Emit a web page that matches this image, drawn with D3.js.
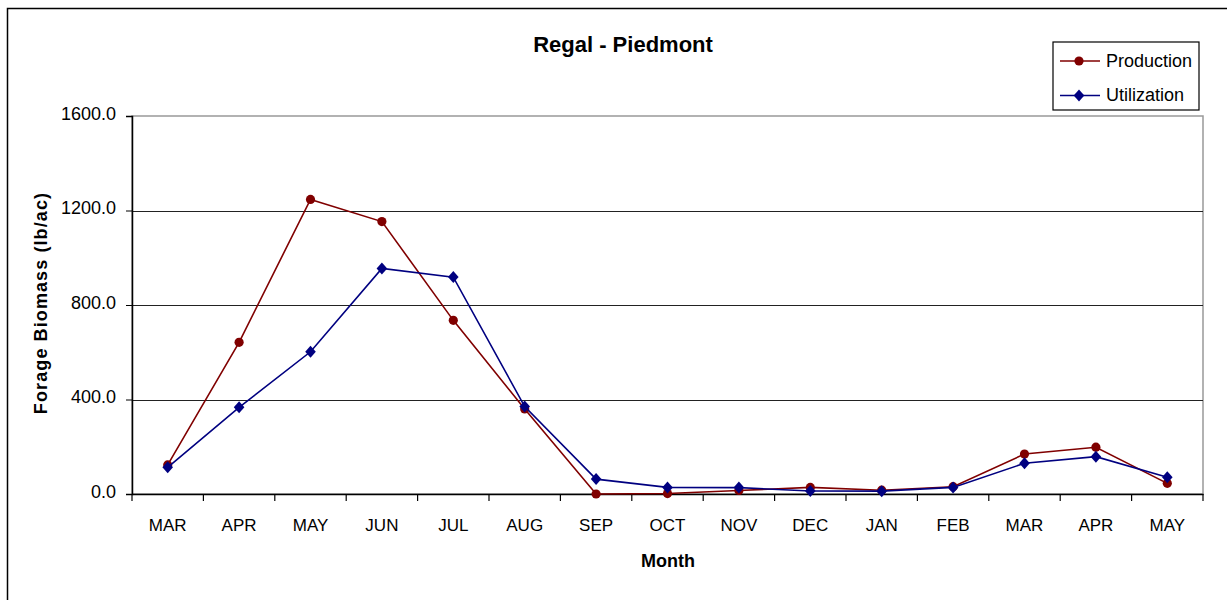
<!DOCTYPE html>
<html><head><meta charset="utf-8">
<script src="https://cdn.jsdelivr.net/npm/d3@7/dist/d3.min.js"></script>
<style>body{margin:0;background:#fff;} svg text{font-family:"Liberation Sans",Arial,sans-serif;fill:#000;}</style>
</head><body><svg id="c" width="1227" height="600"></svg>
<script>
const months = ["MAR","APR","MAY","JUN","JUL","AUG","SEP","OCT","NOV","DEC","JAN","FEB","MAR","APR","MAY"];
const production = [123,642,1247,1153,735,360,0,2,15,28,16,31,169,198,45];
const utilization = [113,367,602,955,918,370,63,28,27,13,12,28,130,158,71];
const yTicks = [0,400,800,1200,1600];

const svg = d3.select("#c");
const L=132,R=1203,T=116,B=494;
svg.append("rect").attr("x",7.5).attr("y",8.5).attr("width",1240).attr("height",620).attr("fill","none").attr("stroke","#000").attr("stroke-width",1.5);

const x = d3.scaleBand().domain(d3.range(months.length)).range([L,R]);
const y = d3.scaleLinear().domain([0,1600]).range([B,T]);

svg.append("rect").attr("x",L).attr("y",T).attr("width",R-L).attr("height",B-T).attr("fill","none").attr("stroke","#999").attr("stroke-width",1.5);
svg.append("g").selectAll("line").data(yTicks.filter(d=>d>0&&d<1600)).join("line")
  .attr("x1",L).attr("x2",R).attr("y1",d=>Math.round(y(d))+0.5).attr("y2",d=>Math.round(y(d))+0.5).attr("stroke","#222").attr("stroke-width",1);

const ya = svg.append("g").attr("transform",`translate(${L},0)`)
  .call(d3.axisLeft(y).tickValues(yTicks).tickFormat(d3.format(".1f")).tickSize(6).tickPadding(10));
ya.select(".domain").attr("stroke","#000").attr("stroke-width",1.5);
ya.selectAll("line").attr("stroke","#000");
ya.selectAll("text").style("font-size","18px").attr("dy","0.17em");

const xa = svg.append("g").attr("transform",`translate(0,${B})`)
  .call(d3.axisBottom(x).tickFormat(i=>months[i]).tickSize(0).tickPadding(25));
xa.select(".domain").attr("stroke","#000").attr("stroke-width",1.5);
xa.selectAll("text").style("font-size","17px");
const bounds = d3.range(months.length+1).map(i=> i<months.length ? x(i) : x(months.length-1)+x.bandwidth());
svg.append("g").selectAll("line").data(bounds).join("line")
  .attr("x1",d=>d).attr("x2",d=>d).attr("y1",B).attr("y2",B+7).attr("stroke","#000").attr("stroke-width",1.2);

const cx = i=> x(i)+x.bandwidth()/2;
const line = d3.line().x((d,i)=>cx(i)).y(d=>y(d));
const series = [
  {name:"Production", values:production, color:"#800000", shape:"circle"},
  {name:"Utilization", values:utilization, color:"#000080", shape:"diamond"}
];
function marker(g,s,px,py){
  if(s.shape==="circle") g.append("circle").attr("cx",px).attr("cy",py).attr("r",4.6).attr("fill",s.color);
  else g.append("path").attr("d",`M${px},${py-6}L${px+5.3},${py}L${px},${py+6}L${px-5.3},${py}Z`).attr("fill",s.color);
}
series.forEach(s=>{
  svg.append("path").datum(s.values).attr("d",line).attr("fill","none").attr("stroke",s.color).attr("stroke-width",1.6);
  const g = svg.append("g");
  s.values.forEach((v,i)=>marker(g,s,cx(i),y(v)));
});

svg.append("text").attr("x",623).attr("y",52).attr("text-anchor","middle").style("font-size","22px").attr("font-weight","bold").text("Regal - Piedmont");
svg.append("text").attr("x",668).attr("y",567).attr("text-anchor","middle").style("font-size","18px").attr("font-weight","bold").text("Month");
svg.append("text").attr("transform","translate(47,303) rotate(-90)").attr("text-anchor","middle").style("font-size","18px").style("letter-spacing","1.1px").attr("font-weight","bold").text("Forage Biomass (lb/ac)");

const lg = svg.append("g");
lg.append("rect").attr("x",1053).attr("y",42).attr("width",146).attr("height",68).attr("fill","#fff").attr("stroke","#000").attr("stroke-width",1.2);
series.forEach((s,i)=>{
  const ly = 61 + i*34.5;
  lg.append("line").attr("x1",1060).attr("x2",1100).attr("y1",ly).attr("y2",ly).attr("stroke",s.color).attr("stroke-width",1.6);
  marker(lg,s,1079,ly);
  lg.append("text").attr("x",1106).attr("y",ly+5.5).style("font-size","18px").text(s.name);
});
</script></body></html>
